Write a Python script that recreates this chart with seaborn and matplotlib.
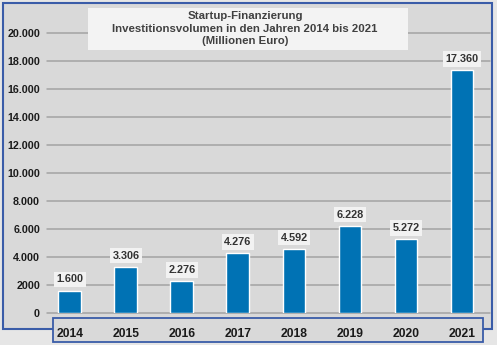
import matplotlib
matplotlib.use("Agg")
import matplotlib.pyplot as plt
import seaborn as sns
import pandas as pd
from matplotlib.patches import Rectangle

years = ["2014", "2015", "2016", "2017", "2018", "2019", "2020", "2021"]
values = [1600, 3306, 2276, 4276, 4592, 6228, 5272, 17360]
value_labels = ["1.600", "3.306", "2.276", "4.276", "4.592", "6.228", "5.272", "17.360"]
yticks = [0, 2000, 4000, 6000, 8000, 10000, 12000, 14000, 16000, 18000, 20000]
ytick_labels = ["0", "2000", "4.000", "6.000", "8.000", "10.000", "12.000",
                "14.000", "16.000", "18.000", "20.000"]
title_lines = ["Startup-Finanzierung",
               "Investitionsvolumen in den Jahren 2014 bis 2021",
               "(Millionen Euro)"]

sns.set_theme(style="white")
plt.rcParams['font.family'] = ['Liberation Sans', 'DejaVu Sans']

W, H = 497, 345
fig = plt.figure(figsize=(W / 100, H / 100), dpi=100, facecolor="#e6e6e6")

def fx(x):
    return x / W

def fy(y):
    return 1 - y / H

border = "#3a5ca8"
bg = "#d9d9d9"

# outer box
fig.patches.append(Rectangle((fx(2.5), fy(328.5)), fx(489), (328.5 - 2.5) / H,
                             transform=fig.transFigure, facecolor=bg,
                             edgecolor=border, lw=1.5, zorder=-2))
# x label box
fig.patches.append(Rectangle((fx(53), fy(342)), fx(430), (342 - 317.5) / H,
                             transform=fig.transFigure, facecolor=bg,
                             edgecolor=border, lw=1.3, zorder=-1))

ax = fig.add_axes([fx(47), fy(313), fx(490 - 47), (313 - 33) / H])
ax.set_facecolor("none")
ax.patch.set_alpha(0)

df = pd.DataFrame({"year": years, "value": values})
sns.barplot(data=df, x="year", y="value", color="#0072b4", width=0.41,
            saturation=1, ax=ax, zorder=3)

ax.set_ylim(0, 20000)
ax.set_xlim(-0.41, 7.5)
ax.set_yticks(yticks)
ax.set_yticklabels(ytick_labels)
ax.yaxis.grid(True, color="#a3a3a3", lw=1.1, zorder=0)
for gl in ax.get_ygridlines():
    gl.set_clip_on(False)
ax.set_axisbelow(True)
for s in ax.spines.values():
    s.set_visible(False)
ax.set_xlabel("")
ax.set_ylabel("")
ax.tick_params(axis="y", length=0, pad=5, labelsize=7.7, labelcolor="#1a1a1a")
ax.tick_params(axis="x", length=0, pad=11, labelsize=8.7, labelcolor="#1a1a1a")
for t in ax.get_yticklabels() + ax.get_xticklabels():
    t.set_fontweight("bold")

for i, (v, lab) in enumerate(zip(values, value_labels)):
    ax.annotate(lab, (i, v), xytext=(0, 8), textcoords="offset points",
                ha="center", va="center", fontsize=7.8, fontweight="bold",
                color="#333333", zorder=5,
                bbox=dict(boxstyle="square,pad=0.25", facecolor="#f2f2f2",
                          edgecolor="none"))

# title box
fig.patches.append(Rectangle((fx(88), fy(50)), fx(320), 42 / H,
                             transform=fig.transFigure, facecolor="#f3f3f3",
                             edgecolor="none", zorder=2))
for k, (line, yy) in enumerate(zip(title_lines, [16, 28.5, 41])):
    fig.text(fx(245), fy(yy), line, ha="center", va="center", fontsize=8.2,
             fontweight="bold", color="#404040", zorder=3)

fig.savefig("out.png", dpi=100, facecolor=fig.get_facecolor())
